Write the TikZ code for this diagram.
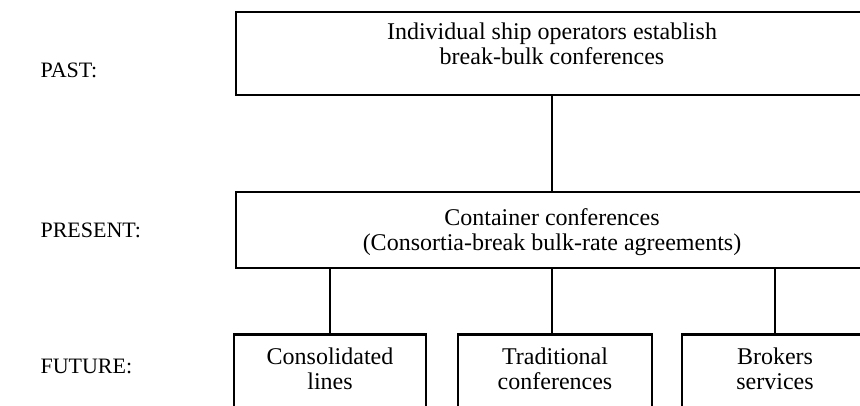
\documentclass[tikz,border=0pt]{standalone}
\usepackage{fontspec}
\setmainfont{Liberation Serif}
\begin{document}
\begin{tikzpicture}[x=1pt,y=-1pt,
  box/.style={draw=black,line width=2.5pt,rectangle,inner sep=0pt},
  txt/.style={align=center,font=\fontsize{24}{24.5}\selectfont},
  lab/.style={anchor=west,font=\fontsize{22}{24}\selectfont},
  conn/.style={draw=black,line width=2.5pt}]
\useasboundingbox (0,0) rectangle (860,406);
\clip (0,0) rectangle (860,406);
% boxes
\node[box,minimum width=632pt,minimum height=83pt] (top) at (552,53.5) {};
\node[txt] (toptext) at (552,44) {Individual ship operators establish\\break-bulk conferences};
\node[box,minimum width=632pt,minimum height=76pt] (mid) at (552,230) {};
\node[txt] (midtext) at (552,232) {Container conferences\\(Consortia-break bulk-rate agreements)};
\node[box,minimum width=192pt,minimum height=100pt,anchor=north] (b1) at (330,333) {};
\node[box,minimum width=194pt,minimum height=100pt,anchor=north] (b2) at (555,333) {};
\node[box,minimum width=186pt,minimum height=100pt,anchor=north] (b3) at (775,333) {};
\node[txt] (b1t) at (330,369) {Consolidated\\lines};
\node[txt] (b2t) at (555,369) {Traditional\\conferences};
\node[txt] (b3t) at (775,369) {Brokers\\services};
% labels
\node[lab] (past) at (37,70) {PAST:};
\node[lab] (present) at (37,230) {PRESENT:};
\node[lab] (future) at (37,366) {FUTURE:};
% connectors
\draw[conn] (top.south) -- (mid.north);
\draw[conn] (b1.north |- mid.south) -- (b1.north);
\draw[conn] (mid.south) -- (mid.south |- b2.north);
\draw[conn] (b3.north |- mid.south) -- (b3.north);
\end{tikzpicture}
\end{document}
